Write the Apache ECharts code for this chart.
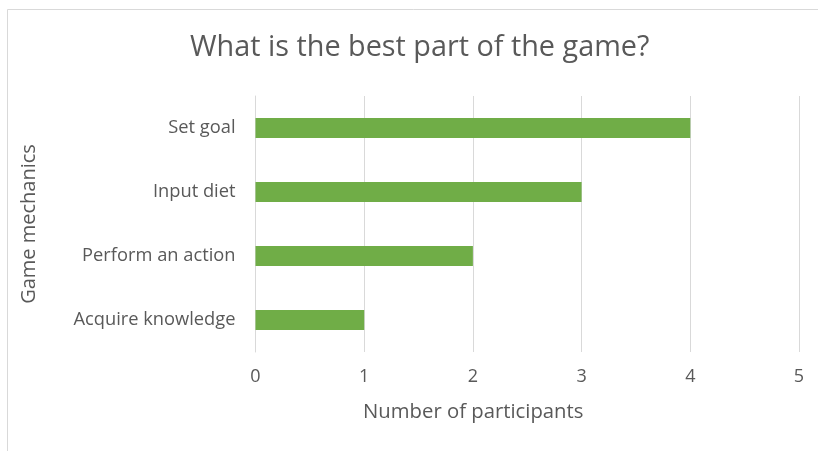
<!DOCTYPE html>
<html>
<head>
<meta charset="utf-8">
<script src="https://cdn.jsdelivr.net/npm/echarts@6/dist/echarts.min.js"></script>
<style>html,body{margin:0;padding:0;background:#fff;}#c{width:818px;height:451px;}</style>
</head>
<body>
<div id="c"></div>
<script>
const categories = ["Acquire knowledge", "Perform an action", "Input diet", "Set goal"];
const values = [1, 2, 3, 4];
const xTicks = [0, 1, 2, 3, 4, 5];

const FONT = "Open Sans";
const chart = echarts.init(document.getElementById('c'), null, {renderer: 'canvas'});
chart.setOption({
  animation: false,
  backgroundColor: '#fff',
  graphic: [{
    type: 'rect', shape: {x: 7.5, y: 9.5, width: 900, height: 500},
    style: {fill: 'none', stroke: '#d9d9d9', lineWidth: 1}, silent: true, z: -1
  }],
  title: {
    text: 'What is the best part of the game?',
    left: 190, top: 33, padding: 0,
    textStyle: {fontFamily: FONT, fontSize: 28.8, fontWeight: 'normal', color: '#595959'}
  },
  grid: {left: 255.5, right: 19, top: 96, bottom: 99, containLabel: false},
  xAxis: {
    type: 'value', min: 0, max: 5, interval: 1,
    name: 'Number of participants', nameLocation: 'middle', nameGap: 50,
    nameTextStyle: {fontFamily: FONT, fontSize: 20.3, color: '#595959', padding: [0, 108, 0, 0]},
    axisLine: {show: false}, axisTick: {show: false},
    axisLabel: {fontFamily: FONT, fontSize: 18, color: '#595959', margin: 16,
      formatter: v => xTicks.includes(v) ? String(v) : ''},
    splitLine: {show: true, lineStyle: {color: '#d9d9d9', width: 1}}
  },
  yAxis: {
    type: 'category', data: categories,
    name: 'Game mechanics', nameLocation: 'middle', nameGap: 216, nameRotate: 90,
    nameTextStyle: {fontFamily: FONT, fontSize: 20, color: '#595959'},
    axisLine: {show: true, lineStyle: {color: '#d9d9d9', width: 1}},
    axisTick: {show: false},
    axisLabel: {fontFamily: FONT, fontSize: 18.3, color: '#595959', margin: 20}
  },
  series: [{
    type: 'bar', data: values, barWidth: 20,
    itemStyle: {color: '#70AD47'}
  }]
});
</script>
</body>
</html>
